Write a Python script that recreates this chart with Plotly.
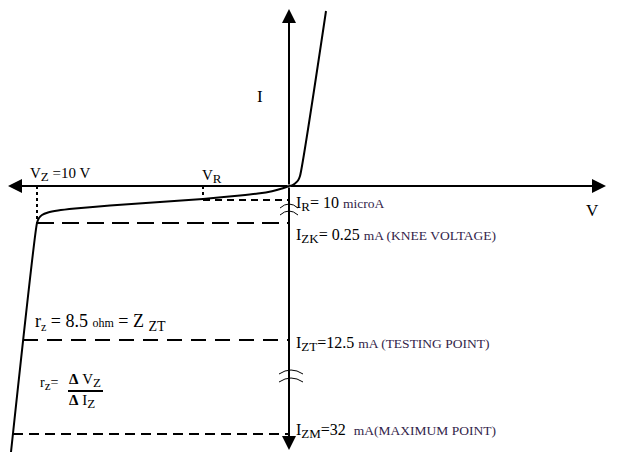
import plotly.graph_objects as go

# Diagram coordinates (schematic units, origin of V-I axes at (289, 186), I grows downward in reverse region)
forward_v = [289, 292, 295, 298, 300, 326]
forward_i = [186, 185.3, 183.5, 180.5, 176, 11]

reverse_v = [289, 282, 272, 258, 240, 203, 160, 110, 75, 58, 48, 42, 39, 37, 11]
reverse_i = [186, 188.5, 191.2, 193.6, 195.6, 199, 202, 205.5, 208.5, 210.5, 212.5, 215, 218, 223, 452]

origin = (289, 186)
vz_point = (37, 223)
vr_point = (203, 199)
ir_level = 200
izk_level = 223
izt_level = 340
izm_level = 434
izt_x = 23
izm_x = 13

FONT = "Liberation Serif, Times New Roman, serif"
SMALL = "color:#33254a;font-size:13.5px"
SUB = "font-size:13px"

fig = go.Figure()

fig.add_trace(go.Scatter(x=forward_v, y=forward_i, mode="lines",
                         line=dict(color="black", width=2, shape="spline", smoothing=0.6),
                         hoverinfo="skip", showlegend=False))
fig.add_trace(go.Scatter(x=reverse_v, y=reverse_i, mode="lines",
                         line=dict(color="black", width=2, shape="spline", smoothing=0.5),
                         hoverinfo="skip", showlegend=False))

ox, oy = origin
# axes with arrowheads
for (tx, ty) in [(8, oy), (606, oy), (ox, 9), (ox, 450)]:
    fig.add_annotation(x=tx, y=ty, ax=ox, ay=oy, xref="x", yref="y", axref="x", ayref="y",
                       text="", showarrow=True, arrowhead=2, arrowsize=1.4, arrowwidth=2,
                       arrowcolor="black", standoff=0, startstandoff=0)

# dashed guide lines
def hline(x0, x1, y, dash):
    fig.add_shape(type="line", x0=x0, x1=x1, y0=y, y1=y, xref="x", yref="y",
                  line=dict(color="black", width=2, dash=dash))

def vline(x, y0, y1, dash):
    fig.add_shape(type="line", x0=x, x1=x, y0=y0, y1=y1, xref="x", yref="y",
                  line=dict(color="black", width=2, dash=dash))

vline(vz_point[0], oy, vz_point[1], "3px,3px")
vline(vr_point[0], oy, vr_point[1], "3px,3px")
hline(vr_point[0], ox, ir_level, "7px,5px")
hline(vz_point[0], ox, izk_level, "17px,8px")
hline(izt_x, ox, izt_level, "15px,9px")
hline(izm_x, ox, izm_level, "10px,6px")

# break marks on the I axis
for (cx, cy, w) in [(289, 205, 9), (289, 212, 9), (291, 371, 12), (291, 379, 12)]:
    fig.add_shape(type="path", xref="x", yref="y",
                  path=f"M {cx-w},{cy+3} Q {cx},{cy-5} {cx+w},{cy+3}",
                  line=dict(color="black", width=1))

# fraction bar for r_z
fig.add_shape(type="line", x0=68, x1=103, y0=391, y1=391, xref="x", yref="y",
              line=dict(color="black", width=2))

def label(x, y, text, size=15, anchor="left"):
    fig.add_annotation(x=x, y=y, xref="x", yref="y", text=text, showarrow=False,
                       xanchor=anchor, yanchor="middle",
                       font=dict(family=FONT, size=size, color="black"))

def sub(s, size=None):
    st = SUB if size is None else f"font-size:{size}px"
    return f"<sub><span style='{st}'>{s}</span></sub>"

label(255, 96, "I", 17)
label(584, 210, "V", 17)
label(28, 174, f"V{sub('Z')} =10 V", 15)
label(200, 176, f"V{sub('R')}", 15)
label(294, 204, f"I{sub('R')}= 10 <span style='{SMALL}'>microA</span>", 16)
label(294, 236, f"I{sub('ZK')}= 0.25 <span style='{SMALL}'>mA (KNEE VOLTAGE)</span>", 16)
label(294, 344, f"I{sub('ZT')}=12.5 <span style='{SMALL}'>mA (TESTING POINT)</span>", 16)
label(294, 431, f"I{sub('ZM')}=32  <span style='{SMALL}'>mA(MAXIMUM POINT)</span>", 16)
label(33, 322, f"r{sub('z', 12)} = 8.5 <span style='font-size:12px'>ohm</span> = Z {sub('ZT', 14)}", 18)
label(38, 384, f"r{sub('z')}=", 14)
label(67, 380, f"<b>Δ</b> V{sub('Z')}", 15)
label(67, 401, f"<b>Δ</b> I{sub('Z')}", 15)

fig.update_xaxes(range=[0, 627], visible=False, fixedrange=True)
fig.update_yaxes(range=[454, 0], visible=False, fixedrange=True)
fig.update_layout(width=627, height=454, margin=dict(l=0, r=0, t=0, b=0),
                  paper_bgcolor="white", plot_bgcolor="white", showlegend=False)

fig.write_html("out.html", config={"displayModeBar": False},
               post_script="document.body.style.margin='0';document.body.style.overflow='hidden';")
